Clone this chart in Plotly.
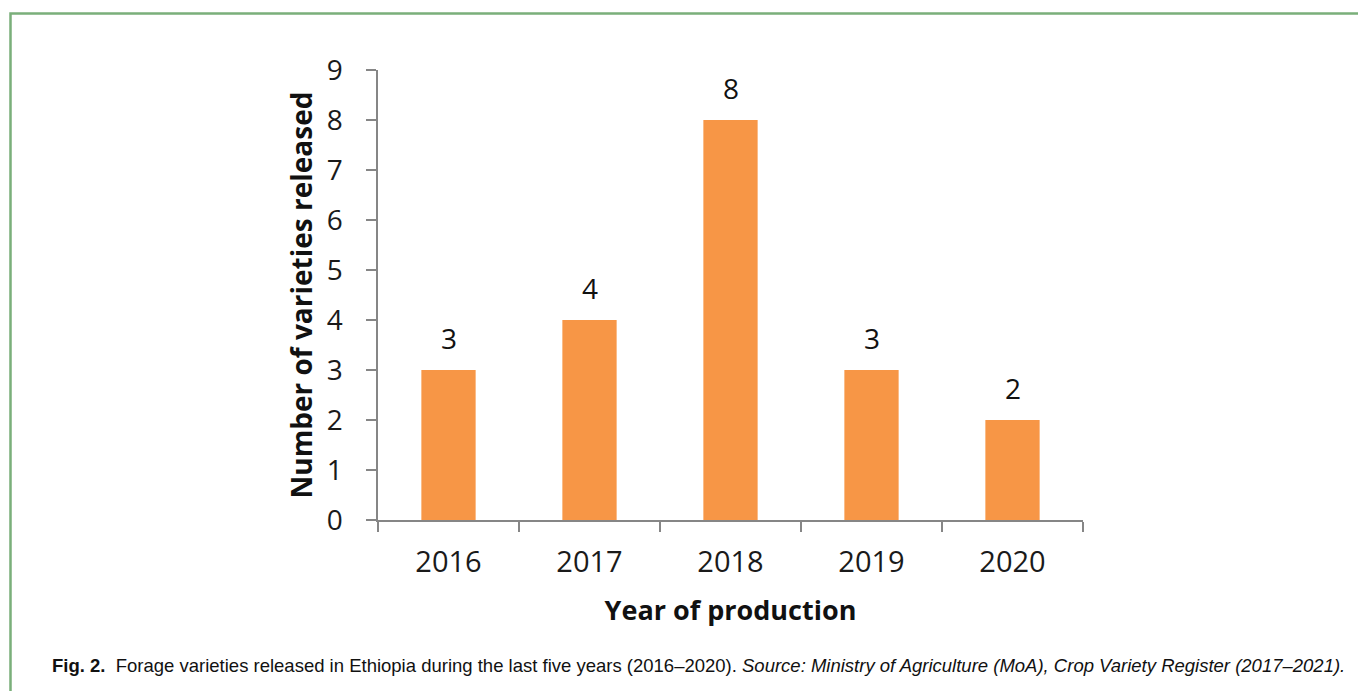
import plotly.graph_objects as go

# Forage varieties released per year
years = ["2016", "2017", "2018", "2019", "2020"]
released = [3, 4, 8, 3, 2]
y_ticks = [0, 1, 2, 3, 4, 5, 6, 7, 8, 9]

W, H = 1358, 691
L, R, T, B = 378, 275, 70, 171
PW, PH = W - L - R, H - T - B


def px_x(px):
    return (px - L) / PW


def px_y(py):
    return (H - B - py) / PH


BAR = "#F79646"
AXIS = "#868686"
FONT = "Open Sans"

fig = go.Figure()
fig.add_trace(go.Bar(
    x=years, y=released, marker=dict(color=BAR, line=dict(width=0)),
    width=0.385, hoverinfo="x+y",
))

# value labels above each bar (x given as category index)
for i, v in enumerate(released):
    fig.add_annotation(
        x=i, y=v, text=str(v), showarrow=False, yanchor="bottom",
        yshift=11, font=dict(family=FONT, size=28, color="#111111"),
    )

# caption below the chart
fig.add_annotation(
    xref="paper", yref="paper", x=px_x(50), y=px_y(665),
    xanchor="left", yanchor="middle", showarrow=False,
    text=("<b>Fig. 2.</b>  Forage varieties released in Ethiopia during the last five years "
          "(2016–2020). <i>Source: Ministry of Agriculture (MoA), Crop Variety Register "
          "(2017–2021).</i>"),
    font=dict(family="Liberation Sans", size=18.5, color="#111111"),
)

# green frame around the figure
fig.add_shape(
    type="path", xref="paper", yref="paper",
    path=(f"M {px_x(10.5)} {px_y(700)} L {px_x(10.5)} {px_y(13.5)} "
          f"L {px_x(1370)} {px_y(13.5)}"),
    line=dict(color="#7AAF7A", width=2.5),
)

fig.update_layout(
    width=W, height=H,
    margin=dict(l=L, r=R, t=T, b=B, autoexpand=False),
    paper_bgcolor="white", plot_bgcolor="white",
    showlegend=False,
    xaxis=dict(
        type="category", categoryorder="array", categoryarray=years,
        range=[-0.5, len(years) - 0.5], showline=True, linecolor=AXIS,
        linewidth=1.5, ticks="outside", tickson="boundaries", ticklen=10,
        tickcolor=AXIS, tickwidth=1.5, ticklabelstandoff=15, tickangle=0,
        tickfont=dict(family=FONT, size=29, color="#1a1a1a"),
        title=dict(text="<b>Year of production</b>", standoff=23,
                   font=dict(family=FONT, size=27, color="#111111")),
        showgrid=False, zeroline=False,
    ),
    yaxis=dict(
        range=[0, 9], tickvals=y_ticks, showline=True, linecolor=AXIS,
        linewidth=1.5, ticks="outside", ticklen=10, tickcolor=AXIS,
        tickwidth=1.5, ticklabelstandoff=18,
        tickfont=dict(family=FONT, size=28, color="#1a1a1a"),
        title=dict(text="<b>Number of varieties released</b>", standoff=6,
                   font=dict(family=FONT, size=28, color="#111111")),
        showgrid=False, zeroline=False,
    ),
)

fig.write_html("out.html")
